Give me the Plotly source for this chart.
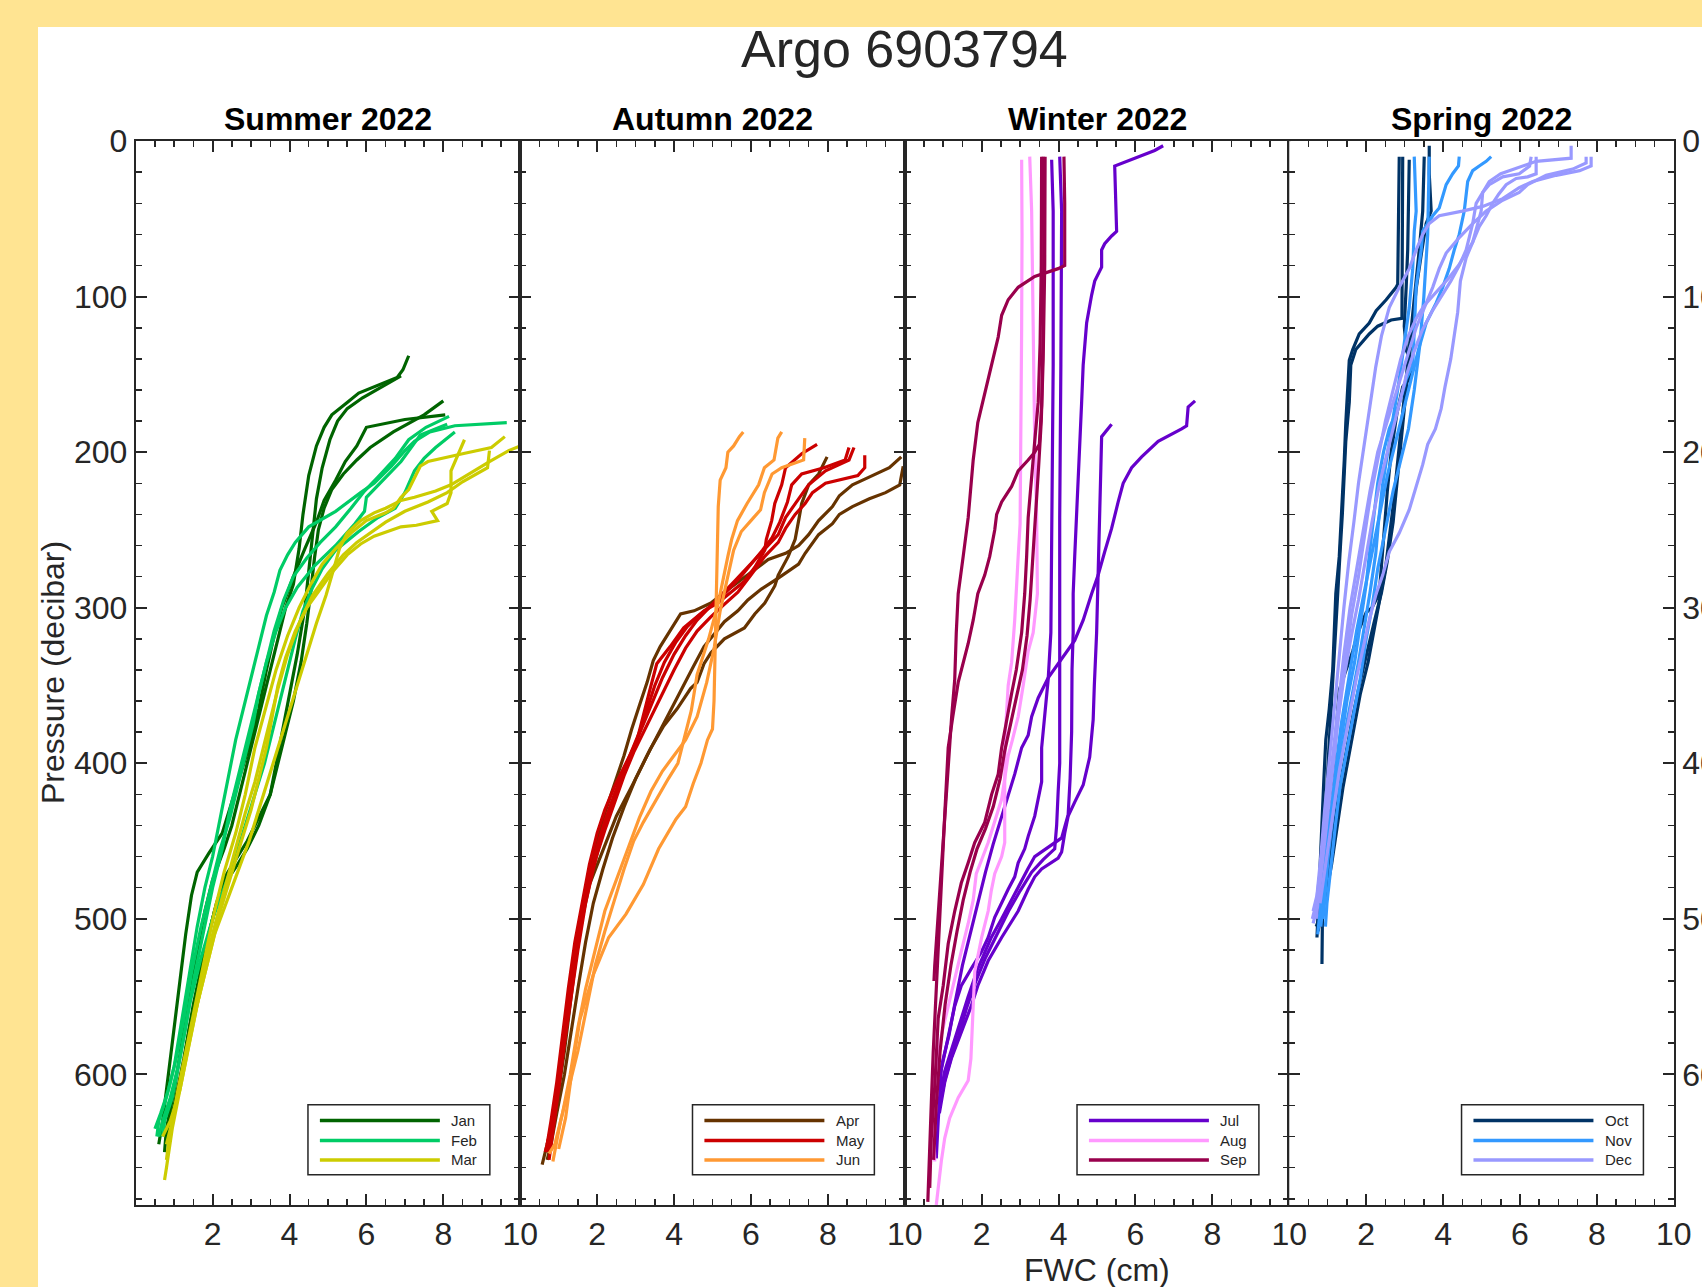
import plotly.graph_objects as go

W, H = 1702, 1287

# ---------------- data ----------------
seasons = ["Summer 2022", "Autumn 2022", "Winter 2022", "Spring 2022"]
season_months = [["Jan", "Feb", "Mar"], ["Apr", "May", "Jun"],
                 ["Jul", "Aug", "Sep"], ["Oct", "Nov", "Dec"]]
month_colors = {
    "Jan": "#006400", "Feb": "#00CC66", "Mar": "#CCCC00",
    "Apr": "#663300", "May": "#CC0000", "Jun": "#FF9933",
    "Jul": "#6600CC", "Aug": "#FF99FF", "Sep": "#99004C",
    "Oct": "#003366", "Nov": "#3399FF", "Dec": "#9999FF",
}
x_ticks = [2, 4, 6, 8, 10]
y_ticks = [0, 100, 200, 300, 400, 500, 600]
x_range = [0, 10]
y_range = [684, 0]

# each profile: list of (FWC cm, pressure dbar)
jan = [
    [(7.1,138),(6.95,147),(6.8,152),(6.3,157),(5.8,162),(5.5,168),(5.1,176),(4.9,184),(4.7,196),(4.5,215),(4.35,240),(4.25,262),(4.1,285),(3.9,300),(3.7,320),(3.5,340),(3.3,360),(3.1,380),(2.9,400),(2.7,420),(2.5,440),(2.3,455),(2.0,475),(1.8,495),(1.6,520),(1.4,550),(1.2,580),(1.0,610),(0.8,635),(0.75,650)],
    [(6.9,151),(6.4,158),(5.9,165),(5.5,172),(5.25,180),(5.05,192),(4.85,210),(4.7,230),(4.6,255),(4.5,278),(4.4,300),(4.2,330),(4.0,355),(3.85,375),(3.7,395),(3.5,420),(3.2,435),(2.9,450),(2.6,462),(2.35,472),(2.1,490),(1.9,510),(1.65,540),(1.4,570),(1.2,600),(1.0,625),(0.85,645)],
    [(8.0,167),(7.5,176),(6.7,187),(6.1,197),(5.75,205),(5.4,214),(5.1,224),(4.9,236),(4.75,250),(4.65,268),(4.55,290),(4.45,310),(4.3,335),(4.1,360),(3.9,380),(3.7,400),(3.5,420),(3.2,440),(2.9,455),(2.6,467),(2.3,478),(2.05,495),(1.8,520),(1.5,555),(1.25,590),(1.0,620),(0.8,640)],
    [(8.05,176),(7.0,179),(6.0,184),(5.75,196),(5.45,206),(5.2,218),(4.9,231),(4.7,245),(4.4,262),(4.1,280),(3.8,300),(3.6,318),(3.4,340),(3.2,365),(3.0,385),(2.75,405),(2.5,425),(2.25,445),(1.9,458),(1.6,470),(1.45,485),(1.3,510),(1.15,540),(1.0,570),(0.85,600),(0.7,630),(0.6,645)],
]
feb = [
    [(9.65,181),(8.3,183),(7.65,187),(7.25,193),(7.0,199),(6.65,209),(6.2,220),(5.85,226),(5.2,238),(4.5,248),(4.15,258),(3.95,266),(3.75,276),(3.6,290),(3.4,305),(3.2,325),(3.0,345),(2.8,365),(2.6,385),(2.4,410),(2.2,435),(2.0,460),(1.8,480),(1.6,505),(1.4,535),(1.2,565),(1.0,595),(0.8,615),(0.6,630),(0.55,640)],
    [(8.15,177),(7.55,184),(7.1,192),(6.75,204),(6.3,216),(5.95,225),(5.6,236),(5.2,248),(4.8,258),(4.45,268),(4.1,280),(3.85,295),(3.6,315),(3.4,335),(3.2,355),(2.95,380),(2.7,405),(2.45,430),(2.25,455),(2.0,480),(1.75,510),(1.5,540),(1.3,570),(1.1,595),(0.9,615),(0.7,630),(0.6,640)],
    [(8.3,187),(7.8,197),(7.5,204),(7.25,212),(7.0,226),(6.75,236),(6.3,242),(5.8,251),(5.2,263),(4.85,275),(4.6,287),(4.35,302),(4.15,320),(3.95,340),(3.75,360),(3.55,380),(3.35,400),(3.1,420),(2.85,440),(2.6,460),(2.3,480),(2.0,500),(1.7,525),(1.4,555),(1.15,590),(0.95,615),(0.75,630),(0.7,640)],
    [(8.1,182),(7.4,189),(6.9,206),(6.3,221),(6.0,229),(5.95,238),(5.7,246),(5.2,260),(4.65,273),(4.2,287),(3.9,300),(3.65,315),(3.4,335),(3.2,355),(3.05,375),(2.85,395),(2.65,415),(2.45,435),(2.2,455),(1.95,480),(1.7,505),(1.45,535),(1.25,565),(1.05,590),(0.85,610),(0.65,625),(0.5,635)],
]
mar = [
    [(10.0,196),(9.7,199),(9.2,206),(8.65,214),(8.2,221),(7.8,225),(7.25,229),(6.9,231),(6.5,236),(6.2,239),(5.85,244),(5.5,252),(5.3,262),(5.15,275),(4.95,292),(4.7,310),(4.45,330),(4.2,350),(3.95,370),(3.7,390),(3.45,410),(3.2,430),(2.95,450),(2.65,470),(2.35,490),(2.05,510),(1.75,540),(1.45,570),(1.2,600),(1.0,625),(0.85,645),(0.8,655)],
    [(9.6,190),(9.25,197),(8.5,201),(7.6,206),(7.4,209),(7.25,216),(7.1,224),(6.9,229),(6.7,236),(6.5,239),(6.0,244),(5.6,252),(5.2,262),(4.85,272),(4.55,285),(4.25,300),(3.95,318),(3.65,340),(3.4,362),(3.1,390),(2.85,420),(2.6,445),(2.3,470),(2.05,495),(1.8,525),(1.55,555),(1.3,585),(1.1,610),(0.95,630),(0.8,645)],
    [(8.55,192),(8.4,201),(8.2,212),(8.2,226),(8.1,233),(7.7,238),(7.85,244),(7.3,247),(6.9,248),(6.2,254),(5.85,259),(5.5,266),(5.15,276),(4.8,288),(4.45,300),(4.15,315),(3.9,332),(3.7,350),(3.55,370),(3.4,390),(3.2,410),(3.0,430),(2.75,450),(2.5,470),(2.2,495),(1.9,525),(1.6,555),(1.35,585),(1.15,610),(0.95,635),(0.8,660),(0.75,668)],
    [(9.2,199),(9.15,210),(8.5,219),(8.1,226),(7.6,232),(7.0,238),(6.5,245),(6.1,252),(5.75,258),(5.4,266),(5.0,278),(4.6,292),(4.25,310),(3.95,330),(3.7,352),(3.5,372),(3.3,392),(3.1,412),(2.85,432),(2.6,455),(2.35,478),(2.1,500),(1.85,525),(1.6,555),(1.35,585),(1.15,610),(0.9,630),(0.7,640)],
]
apr = [
    [(7.98,203),(7.76,214),(7.5,221),(7.32,233),(7.24,244),(7.15,256),(6.97,267),(6.71,279),(6.62,286),(6.36,297),(6.1,304),(5.83,313),(5.31,320),(4.96,329),(4.78,336),(4.6,348),(4.43,352),(4.08,365),(3.73,376),(3.38,391),(2.94,413),(2.5,434),(2.15,456),(1.8,478),(1.62,499),(1.45,525),(1.3,555),(1.15,585),(1.0,610),(0.85,632),(0.75,648)],
    [(9.91,203),(9.6,210),(8.99,217),(8.64,221),(8.3,228),(8.12,235),(7.76,244),(7.5,253),(7.24,260),(6.9,265),(6.45,269),(6.18,274),(5.66,283),(5.31,290),(4.96,297),(4.52,302),(4.17,304),(3.9,315),(3.64,325),(3.46,334),(3.3,348),(3.11,362),(2.9,378),(2.7,395),(2.45,413),(2.2,432),(2.0,450),(1.8,470),(1.6,495),(1.42,525),(1.25,555),(1.1,585),(0.95,612),(0.8,635),(0.65,650),(0.57,658)],
    [(9.96,209),(9.87,221),(9.5,226),(9.08,230),(8.64,235),(8.3,240),(8.12,246),(7.76,253),(7.41,265),(7.24,272),(6.71,281),(6.27,288),(5.92,295),(5.66,302),(5.31,309),(5.0,318),(4.78,325),(4.5,338),(4.2,352),(3.9,367),(3.6,380),(3.3,395),(3.0,410),(2.7,428),(2.4,448),(2.15,468),(1.9,490),(1.7,515),(1.5,545),(1.3,575),(1.15,600),(0.95,625),(0.8,645),(0.7,655)],
]
may = [
    [(7.72,195),(7.32,201),(6.9,210),(6.8,221),(6.62,233),(6.54,244),(6.4,256),(6.36,263),(6.1,274),(5.83,283),(5.48,290),(5.13,297),(4.78,302),(4.25,313),(3.9,325),(3.55,336),(3.38,352),(3.2,370),(3.03,386),(2.75,400),(2.45,415),(2.2,430),(2.0,445),(1.8,465),(1.6,490),(1.42,515),(1.25,545),(1.1,575),(0.95,605),(0.8,630),(0.7,645)],
    [(8.68,197),(8.55,205),(7.94,212),(7.5,221),(7.24,230),(6.9,242),(6.71,253),(6.45,260),(6.18,267),(5.83,276),(5.57,283),(5.22,292),(4.9,300),(4.6,308),(4.3,318),(4.0,330),(3.7,345),(3.45,360),(3.2,375),(2.95,390),(2.7,405),(2.45,420),(2.2,437),(1.98,455),(1.78,475),(1.6,500),(1.42,530),(1.25,560),(1.1,590),(0.95,615),(0.8,638),(0.72,650)],
    [(8.96,202),(8.96,210),(8.78,215),(7.94,220),(7.6,226),(7.41,233),(7.15,240),(6.9,249),(6.71,258),(6.36,267),(6.0,279),(5.66,290),(5.3,298),(4.95,306),(4.6,315),(4.3,326),(4.0,340),(3.7,355),(3.45,368),(3.2,380),(2.95,393),(2.7,408),(2.45,425),(2.2,443),(1.98,460),(1.75,480),(1.55,505),(1.35,535),(1.2,565),(1.05,595),(0.9,620),(0.75,640),(0.65,650)],
    [(8.55,197),(8.45,205),(7.9,210),(7.32,214),(7.06,221),(6.95,232),(6.75,245),(6.55,255),(6.3,263),(6.0,272),(5.7,281),(5.35,290),(5.0,298),(4.65,305),(4.35,312),(4.05,322),(3.75,335),(3.5,350),(3.3,365),(3.1,380),(2.85,395),(2.6,410),(2.35,428),(2.1,448),(1.9,468),(1.7,490),(1.5,520),(1.32,550),(1.15,580),(1.0,610),(0.85,635),(0.75,655)],
]
jun = [
    [(5.8,187),(5.7,190),(5.55,196),(5.4,200),(5.35,210),(5.2,218),(5.15,235),(5.13,260),(5.1,285),(5.08,310),(5.05,335),(5.04,360),(5.0,378),(4.87,385),(4.7,400),(4.5,413),(4.3,428),(4.05,436),(3.6,455),(3.2,478),(2.75,497),(2.3,512),(1.9,536),(1.55,565),(1.35,597),(1.18,628),(1.0,648)],
    [(6.8,187),(6.7,191),(6.6,205),(6.35,210),(6.2,221),(5.9,233),(5.65,244),(5.5,256),(5.4,267),(5.3,279),(5.15,297),(4.9,320),(4.6,343),(4.45,366),(4.25,386),(4.1,400),(3.85,410),(3.5,425),(3.2,438),(2.95,450),(2.7,468),(2.45,488),(2.2,508),(1.95,530),(1.75,555),(1.5,585),(1.25,610),(1.05,630),(0.85,656)],
    [(7.4,191),(7.37,205),(6.8,210),(6.55,214),(6.35,226),(6.25,237),(6.0,244),(5.75,251),(5.55,263),(5.4,279),(5.2,302),(5.05,325),(4.85,348),(4.6,370),(4.3,385),(4.0,395),(3.7,405),(3.4,418),(3.1,435),(2.8,455),(2.5,475),(2.2,495),(1.95,520),(1.7,545),(1.5,570),(1.3,600),(1.1,625),(0.9,645),(0.75,651)],
]
jul = [
    [(6.72,3),(6.5,6),(5.46,16),(5.51,58),(5.38,61),(5.2,66),(5.12,70),(5.12,81),(4.94,90),(4.86,99),(4.73,117),(4.64,144),(4.6,168),(4.55,193),(4.51,217),(4.47,242),(4.42,267),(4.38,291),(4.38,316),(4.35,340),(4.34,380),(4.3,410),(4.25,433),(4.08,448),(3.65,455),(3.38,460),(3.2,468),(2.95,480),(2.52,500),(2.25,512),(1.9,532),(1.65,550),(1.4,570),(1.21,585),(1.04,598),(0.95,610)],
    [(5.38,182),(5.25,186),(5.12,190),(5.1,210),(5.07,242),(5.03,279),(4.99,316),(4.93,350),(4.9,372),(4.81,396),(4.64,414),(4.42,425),(4.25,434),(4.16,445),(4.08,457),(3.99,461),(3.56,468),(3.38,473),(3.21,481),(2.95,495),(2.52,512),(2.17,527),(1.9,543),(1.73,556),(1.47,573),(1.21,590),(1.04,605),(0.9,625)],
    [(4.03,10),(4.08,45),(4.06,144),(4.03,242),(4.03,340),(4.03,400),(3.99,418),(3.95,440),(3.9,455),(3.6,462),(3.3,470),(3.0,482),(2.7,495),(2.4,510),(2.1,525),(1.85,540),(1.6,558),(1.4,575),(1.2,590),(1.05,603),(0.95,615)],
    [(3.82,12),(3.86,45),(3.86,144),(3.83,242),(3.8,316),(3.73,346),(3.64,368),(3.56,390),(3.56,412),(3.38,434),(3.21,447),(3.12,455),(2.95,464),(2.86,473),(2.69,481),(2.52,490),(2.34,499),(2.17,512),(2.0,521),(1.73,532),(1.47,543),(1.3,556),(1.13,575),(0.95,597),(0.87,630),(0.82,654)],
    [(7.55,167),(7.37,171),(7.33,183),(7.2,185),(6.59,193),(6.16,203),(5.9,210),(5.68,220),(5.55,232),(5.38,249),(5.2,264),(5.03,279),(4.86,291),(4.64,308),(4.42,321),(4.08,333),(3.73,345),(3.47,358),(3.3,370),(3.21,382),(3.04,390),(2.86,407),(2.7,420),(2.5,435),(2.3,452),(2.1,470),(1.9,490),(1.7,510),(1.5,530),(1.3,555),(1.15,575),(1.0,590),(0.92,600)],
]
aug = [
    [(3.04,12),(3.05,60),(3.04,120),(3.03,180),(3.0,246),(2.95,267),(2.9,291),(2.86,308),(2.78,335),(2.69,350),(2.62,379),(2.6,412),(2.6,451),(2.52,460),(2.34,471),(2.25,482),(2.17,495),(2.0,512),(1.82,534),(1.78,553),(1.75,575),(1.72,590),(1.65,604),(1.39,615),(1.17,628),(1.04,641),(0.95,656),(0.87,673),(0.82,684)],
    [(3.25,10),(3.3,45),(3.34,119),(3.38,193),(3.43,242),(3.45,291),(3.34,316),(3.21,328),(3.08,350),(2.95,370),(2.8,385),(2.69,395),(2.52,423),(2.34,438),(2.17,451),(2.0,462),(1.86,471),(1.78,488),(1.65,503),(1.47,521),(1.3,538),(1.13,556),(0.95,575),(0.8,597),(0.74,619),(0.76,640),(0.78,656)],
]
sep = [
    [(4.14,10),(4.16,40),(4.16,80),(3.99,82),(3.38,87),(2.95,94),(2.69,102),(2.52,112),(2.43,126),(2.25,144),(2.08,163),(1.9,181),(1.78,205),(1.65,242),(1.52,267),(1.39,291),(1.34,316),(1.3,346),(1.22,370),(1.15,395),(1.08,420),(1.0,445),(0.93,470),(0.87,495),(0.82,515),(0.78,530),(0.76,540)],
    [(3.6,10),(3.62,60),(3.6,120),(3.56,170),(3.5,195),(3.38,200),(3.21,205),(2.95,212),(2.78,222),(2.52,232),(2.39,240),(2.34,250),(2.21,267),(2.08,279),(1.9,291),(1.78,308),(1.65,323),(1.52,335),(1.39,348),(1.25,370),(1.13,390),(1.04,433),(0.95,477),(0.87,521),(0.78,564),(0.74,586),(0.69,619),(0.65,651),(0.6,682)],
    [(3.56,10),(3.55,80),(3.52,130),(3.47,168),(3.38,193),(3.3,217),(3.21,242),(3.17,267),(3.12,291),(3.04,316),(2.9,340),(2.78,355),(2.69,368),(2.52,390),(2.43,407),(2.26,420),(2.08,438),(1.82,451),(1.65,464),(1.47,477),(1.3,495),(1.13,516),(1.0,543),(0.87,564),(0.78,608),(0.69,641),(0.65,673)],
    [(3.65,10),(3.64,80),(3.6,140),(3.55,180),(3.48,210),(3.4,240),(3.33,270),(3.26,295),(3.18,318),(3.06,340),(2.9,358),(2.75,375),(2.6,392),(2.48,410),(2.3,428),(2.1,442),(1.88,455),(1.7,470),(1.52,488),(1.36,508),(1.2,530),(1.05,555),(0.92,585),(0.82,620),(0.75,655)],
]
oct_ = [
    [(2.86,10),(2.85,50),(2.82,92),(2.78,94),(2.52,102),(2.26,109),(2.08,117),(1.82,124),(1.65,134),(1.56,141),(1.52,156),(1.47,181),(1.43,205),(1.38,230),(1.34,250),(1.3,267),(1.21,291),(1.17,316),(1.13,340),(1.04,365),(0.95,385),(0.9,410),(0.85,440),(0.8,470),(0.75,500),(0.72,512)],
    [(2.95,10),(2.95,60),(2.93,114),(2.65,115),(2.3,119),(2.08,124),(1.9,129),(1.73,134),(1.6,144),(1.56,168),(1.47,193),(1.43,217),(1.38,240),(1.32,265),(1.26,290),(1.2,315),(1.14,340),(1.08,365),(1.02,395),(0.96,425),(0.9,455),(0.87,480),(0.86,505),(0.85,529)],
    [(3.12,12),(3.1,40),(3.08,70),(3.04,94),(2.99,119),(3.05,135),(3.21,144),(3.12,153),(2.95,158),(2.8,175),(2.65,200),(2.55,225),(2.47,250),(2.4,270),(2.34,291),(2.15,300),(2.0,303),(1.8,315),(1.65,328),(1.45,342),(1.3,353),(1.21,382),(1.12,410),(1.05,440),(0.99,465),(0.97,480)],
    [(3.51,10),(3.49,30),(3.47,45),(3.38,70),(3.3,90),(3.2,110),(3.1,135),(3.0,160),(2.9,185),(2.8,210),(2.7,235),(2.6,255),(2.5,275),(2.35,295),(2.2,315),(2.05,335),(1.85,355),(1.7,375),(1.55,395),(1.4,415),(1.25,440),(1.1,465),(0.95,485),(0.85,495),(0.7,505)],
    [(3.64,3),(3.64,21),(3.69,45),(3.56,53),(3.45,70),(3.3,95),(3.2,120),(3.1,145),(3.0,170),(2.9,195),(2.8,220),(2.7,245),(2.55,270),(2.4,290),(2.2,310),(2.0,330),(1.82,350),(1.65,370),(1.5,390),(1.35,410),(1.2,435),(1.05,460),(0.9,485),(0.8,500),(0.75,508)],
]
nov = [
    [(5.25,10),(5.12,13),(4.94,16),(4.77,19),(4.64,26),(4.55,45),(4.42,60),(4.29,70),(4.16,82),(3.99,94),(3.82,104),(3.56,117),(3.35,135),(3.15,155),(2.95,175),(2.75,195),(2.55,215),(2.35,240),(2.15,265),(1.95,290),(1.75,315),(1.55,345),(1.35,375),(1.2,405),(1.05,435),(0.92,465),(0.82,490),(0.74,510)],
    [(4.42,10),(4.4,16),(4.25,21),(4.08,28),(3.9,43),(3.73,48),(3.47,58),(3.43,70),(3.3,94),(3.25,119),(3.21,134),(3.21,144),(3.04,153),(2.85,170),(2.6,185),(2.45,200),(2.3,220),(2.2,240),(2.1,262),(2.0,285),(1.85,310),(1.7,335),(1.5,360),(1.35,385),(1.2,410),(1.07,440),(0.95,470),(0.87,495),(0.82,505)],
    [(3.25,10),(3.28,30),(3.3,45),(3.25,58),(3.21,82),(3.12,107),(3.0,130),(2.85,155),(2.7,178),(2.55,200),(2.42,222),(2.32,245),(2.25,265),(2.1,290),(1.95,312),(1.8,335),(1.62,358),(1.45,380),(1.3,405),(1.15,430),(1.02,458),(0.92,485),(0.88,500)],
    [(3.64,10),(3.6,60),(3.5,100),(3.4,130),(3.25,160),(3.1,185),(2.9,205),(2.7,225),(2.5,250),(2.3,275),(2.15,300),(2.0,320),(1.85,345),(1.7,365),(1.5,390),(1.32,415),(1.2,440),(1.08,465),(0.98,490),(0.94,505)],
]
dec = [
    [(7.85,10),(7.85,16),(7.55,19),(6.94,22),(6.33,26),(5.98,30),(5.55,37),(5.03,42),(4.5,45),(3.9,48),(3.64,53),(3.47,60),(3.3,70),(3.12,82),(2.86,94),(2.6,107),(2.4,125),(2.25,145),(2.1,170),(1.95,195),(1.8,220),(1.68,245),(1.55,270),(1.42,300),(1.3,330),(1.18,360),(1.05,395),(0.92,430),(0.82,460),(0.72,485),(0.62,495)],
    [(7.72,10),(7.72,14),(7.37,18),(6.68,22),(6.2,28),(5.98,33),(5.55,38),(5.12,45),(4.77,53),(4.42,62),(4.08,72),(3.9,82),(3.73,94),(3.55,105),(3.3,120),(3.05,140),(2.8,160),(2.55,180),(2.3,200),(2.1,225),(1.92,250),(1.75,275),(1.58,300),(1.42,330),(1.28,360),(1.15,390),(1.02,420),(0.9,450),(0.8,475),(0.7,495),(0.62,503)],
    [(7.33,3),(7.33,11),(6.42,13),(5.82,18),(5.5,21),(5.2,26),(5.03,33),(4.99,45),(4.86,58),(4.77,65),(4.6,75),(4.45,90),(4.38,110),(4.3,125),(4.2,140),(4.05,158),(3.95,172),(3.8,185),(3.6,195),(3.47,208),(3.3,222),(3.12,237),(2.86,252),(2.6,264),(2.43,279),(2.26,291),(2.08,308),(1.92,325),(1.75,345),(1.6,365),(1.45,385),(1.3,405),(1.15,430),(1.0,455),(0.88,475),(0.8,490)],
    [(6.42,10),(6.42,21),(6.2,23),(5.9,24),(5.64,28),(5.45,34),(5.29,40),(5.12,48),(4.94,55),(4.77,65),(4.6,72),(4.4,80),(4.15,88),(3.9,95),(3.7,100),(3.5,106),(3.3,114),(3.1,125),(2.9,140),(2.7,160),(2.5,180),(2.3,205),(2.1,230),(1.95,255),(1.8,280),(1.62,305),(1.48,330),(1.35,355),(1.2,385),(1.05,415),(0.92,445),(0.8,470),(0.7,490),(0.6,500)],
    [(6.29,10),(6.25,16),(5.98,21),(5.55,23),(5.2,28),(5.03,33),(4.86,40),(4.77,53),(4.6,70),(4.42,80),(4.2,90),(3.95,100),(3.7,110),(3.45,122),(3.25,135),(3.05,150),(2.85,170),(2.6,195),(2.35,220),(2.15,245),(1.98,270),(1.8,295),(1.6,320),(1.42,345),(1.28,370),(1.15,400),(1.0,430),(0.88,460),(0.78,485),(0.7,500)],
]
profiles = {"Jan": jan, "Feb": feb, "Mar": mar, "Apr": apr, "May": may, "Jun": jun,
            "Jul": jul, "Aug": aug, "Sep": sep, "Oct": oct_, "Nov": nov, "Dec": dec}

# ---------------- layout constants (pixels) ----------------
AX = "#262626"
FONT = "Liberation Sans, Arial, Helvetica, sans-serif"
plot_l, plot_r, plot_t, plot_b = 135.7, 1673.8, 141.1, 1205.0
panel_w = (plot_r - plot_l) / 4


def px(x):
    return x / W


def py(y):
    return 1 - y / H


fig = go.Figure()
layout = dict(
    width=W, height=H,
    margin=dict(l=0, r=0, t=0, b=0, pad=0),
    paper_bgcolor="#FFE492",
    plot_bgcolor="white",
    showlegend=False,
    template="none",
    font=dict(family=FONT, color=AX),
)

shapes = [dict(type="rect", xref="paper", yref="paper", x0=px(38), x1=1.01,
               y0=-0.01, y1=py(27), fillcolor="white", line=dict(width=0),
               layer="below")]
annotations = []

for k in range(4):
    sfx = "" if k == 0 else str(k + 1)
    x0 = plot_l + k * panel_w
    x1 = x0 + panel_w
    layout["xaxis" + sfx] = dict(
        domain=[px(x0), px(x1)], anchor="y" + sfx, range=x_range,
        tickmode="array", tickvals=x_ticks, ticktext=[str(v) for v in x_ticks],
        ticks="inside", ticklen=11, tickwidth=2, tickcolor=AX,
        showline=True, linecolor=AX, linewidth=2, mirror="ticks",
        showgrid=False, zeroline=False, automargin=False,
        tickfont=dict(family=FONT, size=32, color=AX),
        minor=dict(dtick=0.5, tick0=0, ticks="inside", ticklen=6, tickwidth=1.5,
                   tickcolor=AX, showgrid=False),
        fixedrange=True,
    )
    layout["yaxis" + sfx] = dict(
        domain=[py(plot_b), py(plot_t)], anchor="x" + sfx, range=y_range,
        tickmode="array", tickvals=y_ticks, ticktext=[str(v) for v in y_ticks],
        ticks="inside", ticklen=11, tickwidth=2, tickcolor=AX,
        showline=True, linecolor=AX, linewidth=2, mirror="ticks",
        showgrid=False, zeroline=False, automargin=False,
        showticklabels=(k == 0 or k == 3), side=("right" if k == 3 else "left"),
        tickfont=dict(family=FONT, size=32, color=AX),
        minor=dict(dtick=20, tick0=0, ticks="inside", ticklen=6, tickwidth=1.5,
                   tickcolor=AX, showgrid=False),
        fixedrange=True,
    )
    # traces
    for m in season_months[k]:
        for prof in profiles[m]:
            xs = [p[0] for p in prof]
            ys = [p[1] for p in prof]
            fig.add_trace(go.Scatter(
                x=xs, y=ys, mode="lines", name=m,
                line=dict(color=month_colors[m], width=3.2),
                xaxis="x" + sfx, yaxis="y" + sfx, hoverinfo="skip"))
    # subplot title
    annotations.append(dict(
        text="<b>%s</b>" % seasons[k], xref="paper", yref="paper",
        x=px((x0 + x1) / 2), y=py(119), xanchor="center", yanchor="middle",
        showarrow=False, font=dict(family=FONT, size=32, color="black")))
    # legend box
    xr = "x" + sfx + " domain"
    yr = "y" + sfx + " domain"
    shapes.append(dict(type="rect", xref=xr, yref=yr, x0=0.448, x1=0.921,
                       y0=0.0285, y1=0.0942, fillcolor="white",
                       line=dict(color=AX, width=1.5), layer="above"))
    rows = [0.0795, 0.0607, 0.0423]
    for i, m in enumerate(season_months[k]):
        shapes.append(dict(type="line", xref=xr, yref=yr, x0=0.479, x1=0.791,
                           y0=rows[i], y1=rows[i],
                           line=dict(color=month_colors[m], width=3.5),
                           layer="above"))
        annotations.append(dict(text=m, xref=xr, yref=yr, x=0.815, y=rows[i],
                                xanchor="left", yanchor="middle", showarrow=False,
                                font=dict(family=FONT, size=15, color=AX)))

annotations.append(dict(text="Argo 6903794", xref="paper", yref="paper",
                        x=px((plot_l + plot_r) / 2), y=py(49), xanchor="center",
                        yanchor="middle", showarrow=False,
                        font=dict(family=FONT, size=52, color=AX)))
annotations.append(dict(text="FWC (cm)", xref="paper", yref="paper",
                        x=px(plot_l + 2.5 * panel_w), y=py(1270), xanchor="center",
                        yanchor="middle", showarrow=False,
                        font=dict(family=FONT, size=32, color=AX)))
annotations.append(dict(text="Pressure (decibar)", xref="paper", yref="paper",
                        x=px(53), y=py((plot_t + plot_b) / 2), xanchor="center",
                        yanchor="middle", showarrow=False, textangle=-90,
                        font=dict(family=FONT, size=32, color=AX)))

layout["shapes"] = shapes
layout["annotations"] = annotations
fig.update_layout(**layout)

page_fix = ("document.body.style.margin='0';document.body.style.padding='0';"
            "document.body.style.overflow='hidden';"
            "document.documentElement.style.overflow='hidden';")
fig.write_html("out.html", post_script=page_fix,
               config={"displayModeBar": False, "staticPlot": True})
